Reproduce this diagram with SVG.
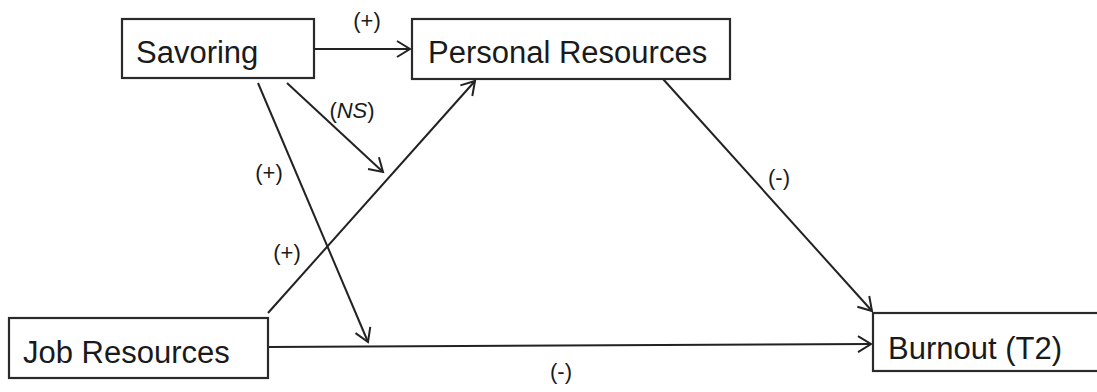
<svg xmlns="http://www.w3.org/2000/svg" width="1097" height="392" viewBox="0 0 1097 392">
  <style>
    .box { fill: #ffffff; stroke: #2a2a2a; stroke-width: 2.2; }
    .node-text { font-family: "Liberation Sans", Arial, sans-serif; font-size: 31px; fill: #1a1a1a; }
    .edge { fill: none; stroke: #222222; stroke-width: 2; }
    .lbl { font-family: "Liberation Sans", Arial, sans-serif; font-size: 22px; fill: #1a1a1a; text-anchor: middle; }
  </style>
  <defs>
    <marker id="arrow" markerUnits="userSpaceOnUse" markerWidth="18" markerHeight="20" refX="15" refY="10" orient="auto">
      <path d="M2,2 L15,10 L2,18" fill="none" stroke="#222222" stroke-width="2"/>
    </marker>
  </defs>
  <rect width="1097" height="392" fill="#ffffff"/>

  <g id="connectors">
    <line class="edge" x1="314" y1="49" x2="410" y2="49" marker-end="url(#arrow)"/>
    <line class="edge" x1="287" y1="83" x2="383" y2="172" marker-end="url(#arrow)"/>
    <line class="edge" x1="258" y1="83" x2="368" y2="342" marker-end="url(#arrow)"/>
    <line class="edge" x1="268" y1="313" x2="475" y2="81" marker-end="url(#arrow)"/>
    <line class="edge" x1="268" y1="347" x2="871" y2="344" marker-end="url(#arrow)"/>
    <line class="edge" x1="663" y1="79" x2="872" y2="311" marker-end="url(#arrow)"/>
    <text class="lbl" x="367" y="28">(+)</text>
    <text class="lbl" x="352" y="118"><tspan font-style="normal">(</tspan><tspan font-style="italic">NS</tspan><tspan font-style="normal">)</tspan></text>
    <text class="lbl" x="269" y="180">(+)</text>
    <text class="lbl" x="287" y="260">(+)</text>
    <text class="lbl" x="779" y="185">(-)</text>
    <text class="lbl" x="561" y="379">(-)</text>
  </g>

  <g id="node-savoring">
    <rect class="box" x="122" y="19" width="192" height="59"/>
    <text class="node-text" x="136" y="63">Savoring</text>
  </g>
  <g id="node-personal-resources">
    <rect class="box" x="412" y="19" width="318" height="60"/>
    <text class="node-text" x="428" y="63">Personal Resources</text>
  </g>
  <g id="node-job-resources">
    <rect class="box" x="9" y="318" width="259" height="60"/>
    <text class="node-text" x="23" y="363">Job Resources</text>
  </g>
  <g id="node-burnout">
    <rect class="box" x="873" y="313" width="240" height="58"/>
    <text class="node-text" x="888" y="359">Burnout (T2)</text>
  </g>
</svg>
